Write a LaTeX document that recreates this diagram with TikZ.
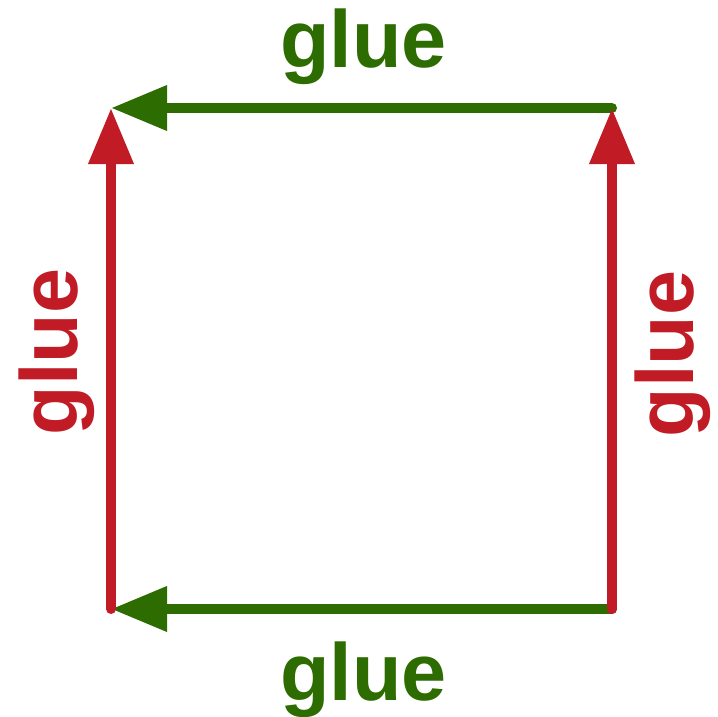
\documentclass[tikz,border=0pt]{standalone}
\usepackage{fontspec}
\setmainfont{Liberation Sans}
\usetikzlibrary{arrows.meta}
\definecolor{gluered}{RGB}{193,28,38}
\definecolor{gluegreen}{RGB}{44,108,0}
\begin{document}
\begin{tikzpicture}[x=1pt,y=-1pt,
  conn/.style={line width=10pt, line cap=round, -{Triangle[length=56pt,width=43pt]}},
  redconn/.style={conn, draw=gluered, fill=gluered},
  greenconn/.style={conn, draw=gluegreen, fill=gluegreen},
  lbl/.style={font=\fontsize{81}{81}\selectfont\bfseries, anchor=base, inner sep=0pt}]
\useasboundingbox (0,0) rectangle (718,717);
\coordinate (tl) at (111,108);
\coordinate (tr) at (612,108);
\coordinate (bl) at (111,609);
\coordinate (br) at (612,609);
\draw[greenconn] (tr) -- (tl);
\draw[greenconn] (br) -- (bl);
\draw[redconn] (bl) -- (tl);
\draw[redconn] (br) -- (tr);
\node[lbl, text=gluegreen] (top) at (363.5,68) {glue};
\node[lbl, text=gluegreen] (bottom) at (363.5,700) {glue};
\node[lbl, text=gluered, rotate=90] (left) at (77,352) {glue};
\node[lbl, text=gluered, rotate=90] (right) at (693,354) {glue};
\end{tikzpicture}
\end{document}
